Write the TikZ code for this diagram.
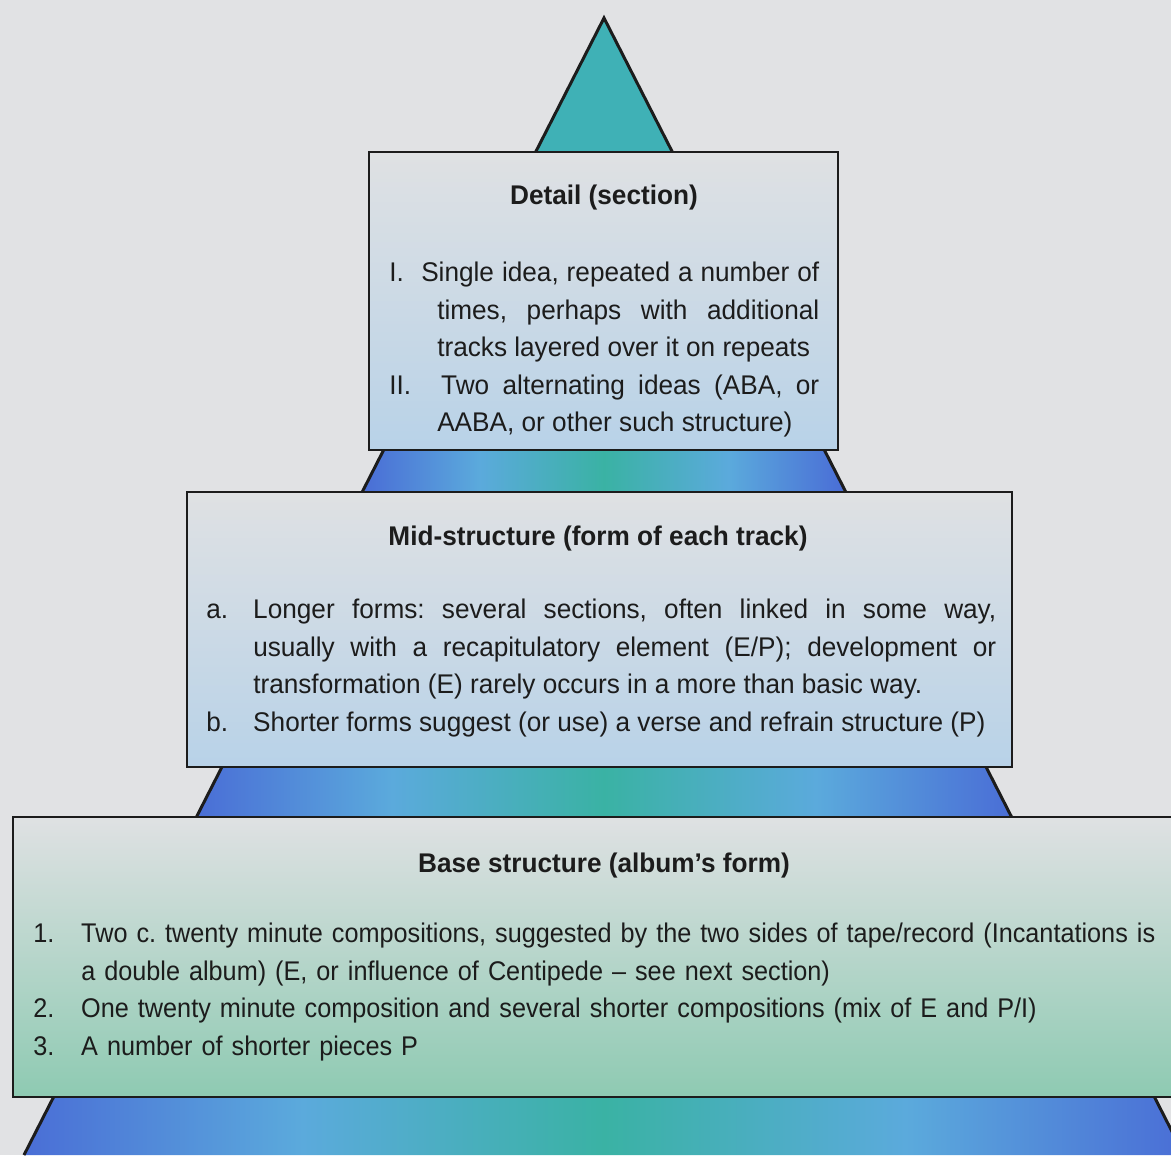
\documentclass[tikz,border=0pt]{standalone}
\usepackage{fontspec}
\setmainfont{Liberation Sans}[FakeStretch=0.97]
\newfontfamily\narrowfont{Liberation Sans}[FakeStretch=0.935]
\usetikzlibrary{positioning}
\definecolor{cbg}{HTML}{E1E2E4}
\definecolor{cblue}{HTML}{4A6ED6}
\definecolor{clight}{HTML}{5BAADC}
\definecolor{cteal}{HTML}{3AB2A4}
\definecolor{ctop}{HTML}{3FB1B6}
\definecolor{cpanel}{HTML}{DFE1E3}
\definecolor{cpblue}{HTML}{B8D2E8}
\definecolor{cpgreen}{HTML}{8ECAB2}
\definecolor{cink}{HTML}{1C1C1C}
\pgfdeclarehorizontalshading{pyramid}{100bp}{color(0bp)=(cblue); color(25bp)=(cblue);
  color(37bp)=(clight); color(50bp)=(cteal); color(63bp)=(clight); color(75bp)=(cblue); color(100bp)=(cblue)}
\newcommand\itm[3]{\par\hangindent=#1\hangafter=1\noindent\makebox[#2][l]{#3}}
\frenchspacing
\tikzset{
  every picture/.style={line width=1.25pt},
  every node/.append style={font=\fontsize{13.5}{18.75}\selectfont, text=cink},
  panel/.style={draw=cink, top color=cpanel, bottom color=#1, inner sep=0pt},
  title/.style={font=\fontsize{13.5}{18.75}\selectfont\bfseries, anchor=base},
  items/.style={anchor=north west, inner sep=0pt, align=justify, text width=#1},
}

\begin{document}
\begin{tikzpicture}[x=0.5pt, y=-0.5pt]
  \fill[cbg] (0,0) rectangle (1171,1155);
  \useasboundingbox (0,0) rectangle (1171,1155);
  \clip (0,0) rectangle (1171,1155);
  % ---------- pyramid
  \coordinate (apex) at (604,18);
  \coordinate (bl) at (24,1155);
  \coordinate (br) at (1184,1155);
  \begin{scope}
    \clip (apex) -- (bl) -- (br) -- cycle;
    \fill[ctop] (500,0) rectangle (710,300);
    \shade[shading=pyramid] (365,300) rectangle (843,640);
    \shade[shading=pyramid] (197,640) rectangle (1011,960);
    \shade[shading=pyramid] (24,960) rectangle (1184,1160);
  \end{scope}
  \draw[cink, line width=1.5pt, line join=miter] (bl) -- (apex) -- (br);
  % ---------- top: detail
  \node[panel=cpblue, minimum width=234.5pt, minimum height=149pt] (detail) at (603.5,301) {};
  \node[title] (detailtitle) at (604,205) {Detail (section)};
  \node[items=215pt] (detailitems) at (388,243) {%
    \itm{24pt}{16pt}{I.}\strut Single idea, repeated a number of\linebreak
    times, perhaps with additional\linebreak
    tracks layered over it on repeats
    \itm{24pt}{26pt}{II.}Two alternating ideas (ABA, or\linebreak
    AABA, or other such structure)\par};
  % ---------- middle: form of each track
  \node[panel=cpblue, minimum width=412.5pt, minimum height=137.5pt] (mid) at (599.5,629.5) {};
  \node[title] (midtitle) at (598,545) {Mid-structure (form of each track)};
  \node[items=395pt] (miditems) at (205,580) {%
    \itm{23.5pt}{23.5pt}{a.}\strut Longer forms: several sections, often linked in some way,\linebreak
    usually with a recapitulatory element (E/P); development or\linebreak
    transformation (E) rarely occurs in a more than basic way.
    \itm{23.5pt}{23.5pt}{b.}Shorter forms suggest (or use) a verse and refrain structure (P)\par};
  % ---------- bottom: album's form
  \node[panel=cpgreen, minimum width=588.5pt, minimum height=140pt] (base) at (601.5,957) {};
  \node[title] (basetitle) at (604,872) {Base structure (album’s form)};
  \node[items=580pt, align=left, font=\fontsize{13.5}{18.75}\narrowfont] (baseitems) at (32,904) {%
    \itm{24pt}{24pt}{1.}\strut Two c. twenty minute compositions, suggested by the two sides of tape/record (Incantations is\newline
    a double album) (E, or influence of Centipede – see next section)
    \itm{24pt}{24pt}{2.}One twenty minute composition and several shorter compositions (mix of E and P/I)
    \itm{24pt}{24pt}{3.}A number of shorter pieces P\par};
\end{tikzpicture}
\end{document}
